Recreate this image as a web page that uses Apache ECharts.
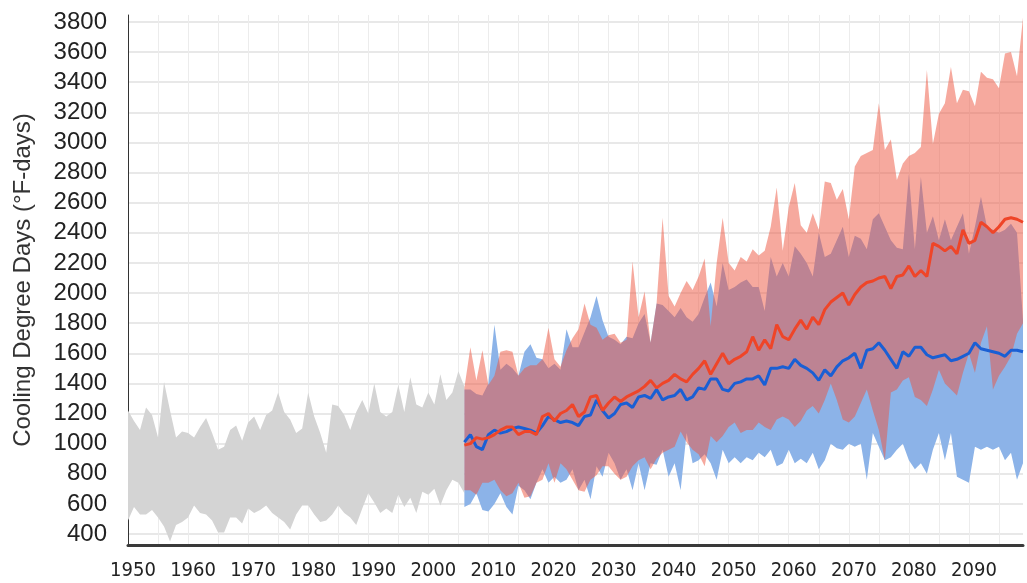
<!DOCTYPE html>
<html>
<head>
<meta charset="utf-8">
<script src="https://cdn.jsdelivr.net/npm/echarts@6/dist/echarts.min.js"></script>
<style>
  html, body { margin: 0; padding: 0; background: #fff; }
  #chart { width: 1027px; height: 583px; }
</style>
</head>
<body>
<div id="chart"></div>
<script>
// historical range 1950-2006
const histStart = 1950;
const grayHigh = [1220, 1150, 1090, 1240, 1190, 1040, 1410, 1220, 1040, 1080,
  1070, 1040, 1110, 1170, 1070, 960, 980, 1090, 1120, 1020,
  1140, 1180, 1090, 1190, 1220, 1340, 1210, 1160, 1070, 1100,
  1340, 1180, 1070, 940, 1260, 1250, 1190, 1090, 1210, 1290,
  1200, 1400, 1210, 1180, 1210, 1390, 1210, 1440, 1260, 1240,
  1340, 1260, 1460, 1290, 1340, 1480, 1380];
const grayLow = [490, 580, 530, 530, 560, 510, 450, 350, 460, 480,
  510, 590, 540, 530, 490, 410, 410, 510, 510, 470,
  570, 540, 560, 590, 540, 510, 480, 430, 530, 590,
  590, 530, 480, 490, 530, 590, 540, 510, 460, 570,
  670, 610, 540, 570, 540, 660, 580, 640, 540, 680,
  660, 700, 590, 690, 760, 740, 670];

// projections 2006-2099
const projStart = 2006;
const redHigh = [1370, 1640, 1420, 1620, 1390, 1450, 1610, 1620, 1610, 1450,
  1500, 1520, 1520, 1560, 1770, 1560, 1510, 1620, 1700, 1760,
  1930, 1790, 1770, 1690, 1720, 1730, 1670, 1690, 2210, 1840,
  2010, 1670, 1930, 2500, 1980, 1910, 2000, 2080, 2020, 2110,
  2230, 1780, 2200, 2500, 2200, 2150, 2240, 2210, 2290, 2250,
  2280, 2440, 2700, 2280, 2570, 2730, 2450, 2400, 2530, 2420,
  2740, 2730, 2620, 2690, 2490, 2840, 2910, 2930, 2950, 3260,
  2950, 3020, 2750, 2860, 2910, 2930, 2970, 3480, 2990, 3190,
  3260, 3500, 3260, 3350, 3340, 3240, 3470, 3430, 3420, 3360,
  3590, 3600, 3440, 3830];
const redLow = [690, 690, 660, 740, 740, 760, 690, 650, 670, 740,
  640, 650, 740, 760, 870, 740, 870, 830, 760, 690,
  680, 760, 790, 850, 850, 800, 760, 780, 850, 890,
  910, 830, 900, 940, 960, 980, 1080, 1010, 960, 930,
  850, 1050, 1010, 1050, 1110, 1140, 1070, 1090, 1090, 1140,
  1110, 1090, 1160, 1180, 1160, 1110, 1150, 1220, 1250, 1200,
  1290, 1400, 1290, 1160, 1140, 1180, 1270, 1360, 1220, 1090,
  890, 1340, 1360, 1420, 1440, 1310, 1290, 1250, 1360, 1490,
  1400, 1360, 1320, 1470, 1600, 1470, 1670, 1780, 1360, 1450,
  1510, 1580, 1730, 1800];
const redMedian = [990, 1000, 1040, 1030, 1040, 1060, 1090, 1110, 1110, 1060,
  1080, 1080, 1060, 1180, 1200, 1150, 1200, 1220, 1260, 1180,
  1210, 1310, 1320, 1220, 1270, 1310, 1280, 1310, 1330, 1350,
  1380, 1420, 1370, 1400, 1420, 1460, 1430, 1410, 1460, 1500,
  1550, 1460, 1530, 1600, 1530, 1560, 1580, 1610, 1710, 1620,
  1690, 1630, 1790, 1710, 1690, 1760, 1820, 1760, 1840, 1790,
  1890, 1940, 1970, 2000, 1920, 1990, 2040, 2070, 2080, 2100,
  2110, 2030, 2110, 2120, 2180, 2110, 2150, 2110, 2330, 2310,
  2280, 2310, 2260, 2420, 2330, 2350, 2470, 2440, 2400, 2440,
  2490, 2500, 2490, 2470];
const blueHigh = [1360, 1360, 1330, 1320, 1400, 1790, 1490, 1530, 1500, 1450,
  1610, 1660, 1570, 1560, 1500, 1530, 1490, 1760, 1640, 1640,
  1740, 1840, 1980, 1820, 1710, 1690, 1660, 1710, 1700, 1800,
  1860, 1670, 1930, 1920, 1880, 1840, 1900, 1840, 1810, 1860,
  1970, 2070, 1910, 2200, 2020, 2040, 2070, 2090, 2040, 2040,
  1880, 2240, 2110, 2200, 2110, 2310, 2260, 2200, 2110, 2400,
  2240, 2260, 2350, 2440, 2240, 2380, 2360, 2290, 2490, 2530,
  2440, 2350, 2300, 2290, 2790, 2290, 2770, 2400, 2510, 2350,
  2490, 2350, 2440, 2530, 2260, 2440, 2640, 2440, 2420, 2400,
  2420, 2460, 2400, 1820];
const blueLow = [580, 600, 670, 560, 550, 600, 670, 580, 530, 720,
  690, 630, 740, 830, 740, 780, 740, 760, 830, 690,
  760, 630, 850, 780, 940, 870, 760, 830, 690, 870,
  690, 870, 860, 960, 780, 870, 690, 1070, 870, 890,
  930, 870, 760, 960, 870, 910, 870, 910, 890, 940,
  910, 960, 850, 870, 960, 870, 900, 870, 940, 830,
  890, 1000, 970, 960, 1000, 980, 1000, 760, 1070, 980,
  890, 910, 960, 1000, 890, 830, 870, 800, 960, 1070,
  890, 1070, 780, 760, 740, 980, 960, 980, 960, 980,
  890, 940, 760, 870];
const blueMedian = [1010, 1060, 980, 960, 1060, 1090, 1070, 1080, 1100, 1110,
  1100, 1090, 1070, 1120, 1180, 1160, 1140, 1150, 1140, 1120,
  1180, 1190, 1290, 1220, 1170, 1200, 1260, 1270, 1240, 1310,
  1320, 1300, 1360, 1290, 1310, 1320, 1360, 1290, 1310, 1370,
  1360, 1430, 1430, 1360, 1350, 1400, 1410, 1430, 1430, 1450,
  1390, 1500, 1500, 1510, 1500, 1560, 1520, 1500, 1470, 1420,
  1490, 1450, 1510, 1550, 1570, 1600, 1500, 1620, 1630, 1670,
  1620, 1560, 1500, 1610, 1580, 1640, 1640, 1590, 1570, 1580,
  1590, 1550, 1560, 1580, 1600, 1670, 1630, 1620, 1610, 1600,
  1580, 1620, 1620, 1610];

const yTicks = [400, 600, 800, 1000, 1200, 1400, 1600, 1800, 2000, 2200,
  2400, 2600, 2800, 3000, 3200, 3400, 3600, 3800];

const years = [];
for (let y = 1950; y <= 2099; y++) years.push(String(y));

function place(arr, start) {
  const out = years.map(() => null);
  arr.forEach((v, i) => { out[start - 1950 + i] = v; });
  return out;
}
function spread(hi, lo) {
  return hi.map((v, i) => v - lo[i]);
}

const font = "'Liberation Sans', Arial, sans-serif";

function bandBase(name, stack, low, start) {
  return {
    name: name, type: "line", stack: stack, data: place(low, start),
    symbol: "none", lineStyle: { opacity: 0 }, silent: true,
  };
}
function bandFill(name, stack, hi, low, start, color) {
  return {
    name: name, type: "line", stack: stack, data: place(spread(hi, low), start),
    symbol: "none", lineStyle: { opacity: 0 }, areaStyle: { color: color, opacity: 1 }, silent: true,
  };
}

const chart = echarts.init(document.getElementById("chart"));
chart.setOption({
  animation: false,
  grid: { left: 128, right: 4, top: 15, bottom: 38 },
  xAxis: {
    type: "category",
    data: years,
    boundaryGap: false,
    axisLine: { lineStyle: { color: "#3a3a3a", width: 3 } },
    axisTick: { show: false },
    axisLabel: {
      interval: (i) => i % 10 === 0,
      margin: 16,
      padding: [0, 0, 0, 10],
      color: "#222",
      fontSize: 20,
      fontFamily: "'Liberation Sans Narrow', 'DejaVu Sans Condensed', " + font,
    },
    splitLine: { show: true, interval: (i) => i % 5 === 0, lineStyle: { color: "#ececec", width: 1 } },
  },
  yAxis: {
    type: "value",
    min: 327,
    max: 3846,
    name: "Cooling Degree Days (°F-days)",
    nameLocation: "middle",
    nameGap: 93,
    nameTextStyle: { fontSize: 24, color: "#333", fontFamily: font },
    axisLine: { show: true, lineStyle: { color: "#333", width: 1 } },
    axisTick: { show: false, customValues: yTicks },
    axisLabel: {
      customValues: yTicks,
      formatter: (v) => String(v),
      margin: 21,
      fontSize: 24,
      color: "#222",
      fontFamily: font,
    },
    splitLine: { show: true, lineStyle: { color: "#e8e8e8", width: 2 } },
  },
  series: [
    bandBase("histLow", "hist", grayLow, histStart),
    bandFill("hist", "hist", grayHigh, grayLow, histStart, "#d4d4d4"),
    bandBase("lowLow", "low", blueLow, projStart),
    bandFill("low", "low", blueHigh, blueLow, projStart, "#8cb3e8"),
    bandBase("highLow", "high", redLow, projStart),
    bandFill("high", "high", redHigh, redLow, projStart, "rgba(238,84,62,0.5)"),
    {
      name: "blueMedian", type: "line", data: place(blueMedian, projStart),
      symbol: "none", lineStyle: { color: "#1a5fd4", width: 3 },
    },
    {
      name: "redMedian", type: "line", data: place(redMedian, projStart),
      symbol: "none", lineStyle: { color: "#ef4528", width: 3 },
    },
  ],
});
</script>
</body>
</html>
